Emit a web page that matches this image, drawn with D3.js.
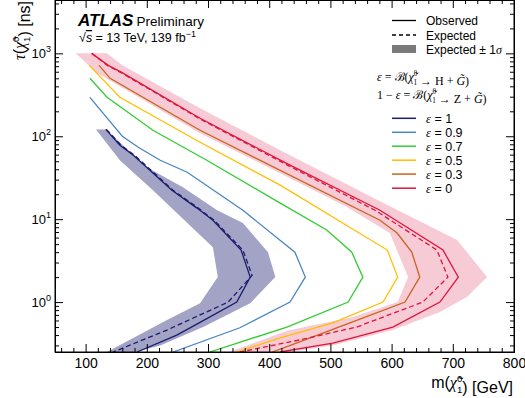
<!DOCTYPE html>
<html>
<head>
<meta charset="utf-8">
<script src="https://cdn.jsdelivr.net/npm/d3@7"></script>
<style>
body{margin:0;background:#fff}
svg{display:block}
text{font-family:"Liberation Sans",Arial,sans-serif;fill:#000}
.serif{font-family:"Liberation Serif","DejaVu Serif",serif}
</style>
</head>
<body>
<div id="chart"></div>
<script>
// epsilon values and colours
const epsLabels = ["1", "0.9", "0.7", "0.5", "0.3", "0"];
const epsColors = ["#1c1c6e", "#4a86c0", "#33cc33", "#ffbf00", "#c8641e", "#e0143c"];

// [mass GeV, lifetime ns]
const obsEps1 = [[133,121],[156,78],[178,59],[241,22.3],[282,13.6],[308,9.7],[354,4.24],[369,2],[347,1],[287,0.57],[249,0.40],[184,0.25]];
const expEps1 = [[134,121],[158,78],[180,59],[243,22.3],[284,13.6],[310,9.7],[357,4.24],[372,2.1],[333,1],[233,0.46],[145,0.25]];
const bandEps1Hi = [[133,121],[200,42.4],[259,24.3],[315,12.8],[357,9.0],[398,4.0],[410,2],[369,0.97],[292,0.5],[222,0.30],[181,0.25]];
const bandEps1Lo = [[117,121],[156,51.4],[210,22.3],[308,4.6],[316,2],[287,0.97],[233,0.61],[135,0.25]];

const obsEps09 = [[107,295],[160,100],[186,73.6],[222,51.4],[266,36.8],[357,12.8],[442,4.0],[459,2],[434,1],[352,0.49],[243,0.25]];
const obsEps07 = [[107,500],[135,295],[210,118],[298,51.4],[418,15.6],[494,7.4],[535,4.0],[553,2],[529,1],[429,0.5],[303,0.25]];
const obsEps05 = [[106,717],[156,295],[287,84.7],[418,25.7],[593,4.24],[610,2],[586,1],[504,0.56],[418,0.37],[347,0.25]];
const obsEps03 = [[122,717],[140,500],[287,118],[581,9.7],[609,6.8],[633,4.0],[646,2],[622,1],[532,0.56],[429,0.29],[405,0.25]];

const obsEps0 = [[110,1000],[137,717],[159,590],[287,165],[434,44.8],[581,12.8],[684,4.24],[709,2],[679,1],[602,0.5],[504,0.32],[418,0.25]];
const expEps0 = [[110,1000],[136,710],[158,585],[286,163],[432,44],[573,12.8],[674,4.24],[692,2],[651,1],[543,0.5],[450,0.35],[352,0.25]];
const bandEps0Hi = [[84,1000],[135,1000],[160,717],[287,217],[418,67.8],[581,16.5],[707,5.6],[756,2],[723,1.15],[679,0.76],[602,0.46],[504,0.30],[429,0.25]];
const bandEps0Lo = [[84,1000],[117,590],[287,109],[450,27.2],[527,14],[597,6.8],[627,2],[610,1],[537,0.66],[429,0.45],[335,0.25]];

const xTicks = [100, 200, 300, 400, 500, 600, 700, 800];
const yTicks = [1, 10, 100, 1000];
const yTickExp = ["0", "1", "2", "3"];

const W = 525, H = 398;
const svg = d3.select("#chart").append("svg").attr("width", W).attr("height", H);

const x = d3.scaleLinear().domain([50, 800]).range([55, 514]);
const y = d3.scaleLog().domain([0.25, 4400]).range([352, 0]);

svg.append("clipPath").attr("id", "plotclip").append("rect")
  .attr("x", 55).attr("y", 0).attr("width", 459).attr("height", 352);

const plot = svg.append("g").attr("clip-path", "url(#plotclip)");
const line = d3.line().x(d => x(d[0])).y(d => y(d[1]));

// bands
plot.append("path").attr("d", line(bandEps1Hi.concat(bandEps1Lo.slice().reverse())) + "Z")
  .attr("fill", "#a3a3c6").attr("stroke", "none");
plot.append("path").attr("d", line(bandEps0Hi.concat(bandEps0Lo.slice().reverse())) + "Z")
  .attr("fill", "#f7cbd5").attr("stroke", "none");

// limit curves
const obsCurves = [obsEps1, obsEps09, obsEps07, obsEps05, obsEps03, obsEps0];
obsCurves.forEach((c, i) => {
  plot.append("path").attr("d", line(c)).attr("fill", "none")
    .attr("stroke", epsColors[i]).attr("stroke-width", 1.3);
});
plot.append("path").attr("d", line(expEps1)).attr("fill", "none")
  .attr("stroke", epsColors[0]).attr("stroke-width", 1.3).attr("stroke-dasharray", "5,3");
plot.append("path").attr("d", line(expEps0)).attr("fill", "none")
  .attr("stroke", epsColors[5]).attr("stroke-width", 1.3).attr("stroke-dasharray", "5,3");

// axes
function styleAxis(g) {
  g.selectAll("path.domain").attr("stroke", "#000").attr("stroke-width", 1);
  g.selectAll("line").attr("stroke", "#000").attr("stroke-width", 1);
}
const xMinor = d3.range(60, 800, 20).filter(v => v % 100 !== 0);
const yMinor = [];
[0.1, 1, 10, 100, 1000].forEach(d => { for (let k = 2; k <= 9; k++) { const v = d * k; if (v >= 0.25 && v <= 4400) yMinor.push(v); } });

const gx = svg.append("g").attr("transform", "translate(0,352)")
  .call(d3.axisBottom(x).tickValues(xTicks).tickSize(-8).tickPadding(6).tickFormat(d3.format("d")));
gx.selectAll("text").attr("font-size", 14).attr("font-family", "Liberation Sans, Arial, sans-serif");
styleAxis(gx);
styleAxis(svg.append("g").attr("transform", "translate(0,352)")
  .call(d3.axisBottom(x).tickValues(xMinor).tickSize(-4).tickFormat("")));
styleAxis(svg.append("g").attr("transform", "translate(0,0)")
  .call(d3.axisTop(x).tickValues(xTicks).tickSize(-8).tickFormat("")));
styleAxis(svg.append("g").attr("transform", "translate(0,0)")
  .call(d3.axisTop(x).tickValues(xMinor).tickSize(-4).tickFormat("")));

styleAxis(svg.append("g").attr("transform", "translate(55,0)")
  .call(d3.axisLeft(y).tickValues(yTicks).tickSize(-8).tickFormat("")));
styleAxis(svg.append("g").attr("transform", "translate(55,0)")
  .call(d3.axisLeft(y).tickValues(yMinor).tickSize(-4).tickFormat("")));
styleAxis(svg.append("g").attr("transform", "translate(514,0)")
  .call(d3.axisRight(y).tickValues(yTicks).tickSize(-8).tickFormat("")));
styleAxis(svg.append("g").attr("transform", "translate(514,0)")
  .call(d3.axisRight(y).tickValues(yMinor).tickSize(-4).tickFormat("")));

// y tick labels with exponents
yTicks.forEach((v, i) => {
  const t = svg.append("text").attr("x", 51).attr("y", y(v) + 5)
    .attr("text-anchor", "end").attr("font-size", 13);
  t.append("tspan").text("10");
  t.append("tspan").attr("dy", -6).attr("font-size", 9).text(yTickExp[i]);
});

// chi-tilde with stacked sub/superscript
function chi(t, fs) {
  t.append("tspan").attr("font-style", "italic").attr("class", "serif").text("χ\u0303");
  t.append("tspan").attr("dy", -fs * 0.4).attr("font-size", fs * 0.6).text("0");
  t.append("tspan").attr("dx", -fs * 0.33).attr("dy", fs * 0.7).attr("font-size", fs * 0.6).text("1");
  t.append("tspan").attr("dy", -fs * 0.3).text("");
}

// axis titles
const xt = svg.append("text").attr("x", 513).attr("y", 388).attr("text-anchor", "end").attr("font-size", 16);
xt.append("tspan").text("m(");
chi(xt, 16);
xt.append("tspan").text(") [GeV]");

const yt = svg.append("text").attr("transform", "translate(25,1) rotate(-90)")
  .attr("text-anchor", "end").attr("font-size", 16);
yt.append("tspan").attr("class", "serif").attr("font-style", "italic").text("τ");
yt.append("tspan").text("(");
chi(yt, 16);
yt.append("tspan").text(") [ns]");

// ATLAS label
const at = svg.append("text").attr("x", 78).attr("y", 26);
at.append("tspan").attr("font-weight", "bold").attr("font-style", "italic").attr("font-size", 17).text("ATLAS");
at.append("tspan").attr("dx", 3).attr("font-size", 13.5).text("Preliminary");
const en = svg.append("text").attr("x", 79).attr("y", 42).attr("font-size", 12.5);
en.append("tspan").text("\u221A");
en.append("tspan").attr("font-style", "italic").attr("text-decoration", "overline").text("s");
en.append("tspan").text(" = 13 TeV, 139 fb");
en.append("tspan").attr("dy", -5).attr("font-size", 9).text("\u22121");

// legend
const lx0 = 392, lx1 = 416, tx = 426;
svg.append("line").attr("x1", lx0).attr("x2", lx1).attr("y1", 20.5).attr("y2", 20.5).attr("stroke", "#000").attr("stroke-width", 1.3);
svg.append("line").attr("x1", lx0).attr("x2", lx1).attr("y1", 35).attr("y2", 35).attr("stroke", "#000").attr("stroke-width", 1.3).attr("stroke-dasharray", "4,3");
svg.append("rect").attr("x", lx0).attr("y", 45).attr("width", lx1 - lx0).attr("height", 8).attr("fill", "#7a7a7a");
svg.append("text").attr("x", tx).attr("y", 25).attr("font-size", 12).text("Observed");
svg.append("text").attr("x", tx).attr("y", 39.5).attr("font-size", 12).text("Expected");
const bt = svg.append("text").attr("x", tx).attr("y", 54).attr("font-size", 12);
bt.append("tspan").text("Expected \u00B1 1");
bt.append("tspan").attr("class", "serif").attr("font-style", "italic").text("σ");

function formula(yy, prefix, boson) {
  const t = svg.append("text").attr("x", 377).attr("y", yy).attr("font-size", 12).attr("class", "serif");
  t.append("tspan").text(prefix);
  t.append("tspan").attr("font-style", "italic").text("ε");
  t.append("tspan").text(" = \u212C(");
  chi(t, 12);
  t.append("tspan").text(" \u2192 " + boson + " + ");
  t.append("tspan").attr("font-style", "italic").text("G\u0303");
  t.append("tspan").text(")");
}
formula(81, "", "H");
formula(99, "1 \u2212 ", "Z");

const legY = [118.3, 132.3, 146.2, 160.2, 174.1, 188.2];
epsLabels.forEach((lab, i) => {
  svg.append("line").attr("x1", lx0).attr("x2", lx1).attr("y1", legY[i]).attr("y2", legY[i])
    .attr("stroke", epsColors[i]).attr("stroke-width", 1.5);
  const t = svg.append("text").attr("x", tx).attr("y", legY[i] + 4.5).attr("font-size", 12.5);
  t.append("tspan").attr("class", "serif").attr("font-style", "italic").text("ε");
  t.append("tspan").text(" = " + lab);
});

// frame
svg.append("rect").attr("x", 55).attr("y", 0).attr("width", 459).attr("height", 352)
  .attr("fill", "none").attr("stroke", "#000").attr("stroke-width", 1);
</script>
</body>
</html>
